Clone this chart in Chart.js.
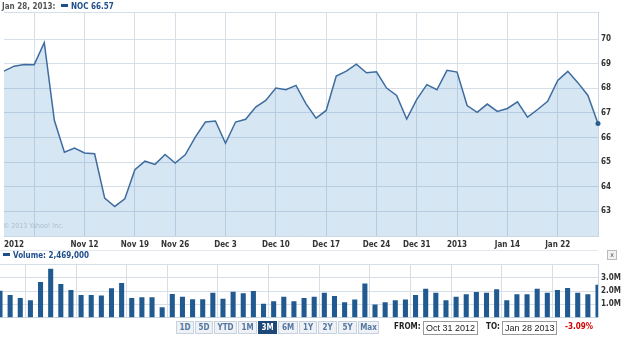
<!DOCTYPE html>
<html>
<head>
<meta charset="utf-8">
<script src="https://cdn.jsdelivr.net/npm/chart.js@4/dist/chart.umd.min.js"></script>
<style>
  body { margin: 0; width: 625px; height: 337px; background: #fff; overflow: hidden; position: relative;
         font-family: 'DejaVu Sans Condensed', 'DejaVu Sans', sans-serif; }
  canvas { position: absolute; left: 0; }
  #main { top: 0; }
  #vol { top: 250px; }
  .lbl { position: absolute; font-size: 8px; font-weight: bold; white-space: nowrap; line-height: 10px; }
  .sw { display: inline-block; width: 7px; height: 3px; background: #1f4e8c; vertical-align: 2px; margin-right: 3px; }
  #btns { position: absolute; left: 176px; top: 321px; height: 12px; }
  .b { position: absolute; top: 0; height: 11px; border: 1px solid #c9d3de; background: #eef2f6; color: #5577a0;
       font-size: 8px; font-weight: bold; text-align: center; line-height: 11px; box-sizing: content-box; }
  .b.on { background: #1e4877; border-color: #1e4877; color: #fff; }
  .inp { position: absolute; top: 321px; height: 12px; border: 1px solid #9a9a9a; font-family: 'Liberation Sans', Arial, sans-serif;
         font-size: 9px; color: #222; line-height: 12px; padding-left: 2px; white-space: nowrap; overflow: hidden; }
</style>
</head>
<body>
<canvas id="main" width="625" height="252"></canvas>
<canvas id="vol" width="625" height="80"></canvas>

<div class="lbl" style="left:2px;top:2px;color:#555">Jan 28, 2013:</div>
<div class="lbl" style="left:61px;top:2px;color:#1f4e8c"><span class="sw"></span>NOC 66.57</div>
<div style="position:absolute;left:3px;top:222px;font-size:7px;color:#aebdcb">© 2013 Yahoo! Inc.</div>
<div style="position:absolute;left:0;top:250px;width:598px;height:1px;background:#e2e8ee"></div>
<div class="lbl" style="left:3px;top:251px;color:#1f4e8c"><span class="sw"></span>Volume: 2,469,000</div>
<div style="position:absolute;left:607px;top:250px;width:8px;height:8px;border:1px solid #bbb;background:#f2f2f2;font-size:7px;line-height:8px;text-align:center;color:#555">x</div>

<div id="btns"></div>
<div class="lbl" style="left:394px;top:322px;color:#222">FROM:</div>
<div class="inp" style="left:423px;width:51px">Oct 31 2012</div>
<div class="lbl" style="left:486px;top:322px;color:#222">TO:</div>
<div class="inp" style="left:502px;width:51px">Jan 28 2013</div>
<div class="lbl" style="left:565px;top:322px;color:#d40000">-3.09%</div>

<script>
const days = [
  "Oct 31", "Nov 1", "Nov 2", "Nov 5", "Nov 6", "Nov 7", "Nov 8", "Nov 9",
  "Nov 12", "Nov 13", "Nov 14", "Nov 15", "Nov 16", "Nov 19", "Nov 20", "Nov 21", "Nov 23",
  "Nov 26", "Nov 27", "Nov 28", "Nov 29", "Nov 30", "Dec 3", "Dec 4", "Dec 5", "Dec 6", "Dec 7",
  "Dec 10", "Dec 11", "Dec 12", "Dec 13", "Dec 14", "Dec 17", "Dec 18", "Dec 19", "Dec 20", "Dec 21",
  "Dec 24", "Dec 26", "Dec 27", "Dec 28", "Dec 31", "Jan 2", "Jan 3", "Jan 4",
  "Jan 7", "Jan 8", "Jan 9", "Jan 10", "Jan 11", "Jan 14", "Jan 15", "Jan 16", "Jan 17", "Jan 18",
  "Jan 22", "Jan 23", "Jan 24", "Jan 25", "Jan 28"
];

const closes = [
  68.70, 68.90, 68.97, 68.96, 69.85, 66.70, 65.40, 65.57, 65.37, 65.34,
  63.54, 63.20, 63.51, 64.69, 65.04, 64.91, 65.31, 64.96, 65.30, 66.02,
  66.63, 66.67, 65.77, 66.63, 66.74, 67.24, 67.51, 68.01, 67.94, 68.12,
  67.37, 66.79, 67.10, 68.50, 68.70, 68.98, 68.63, 68.67, 68.01, 67.71,
  66.75, 67.55, 68.15, 67.94, 68.73, 68.66, 67.30, 67.02, 67.36, 67.06,
  67.18, 67.45, 66.83, 67.14, 67.47, 68.32, 68.69, 68.23, 67.71, 66.57
];

// millions of shares
const volumes = [
  2.03, 1.71, 1.48, 1.31, 2.68, 3.68, 2.53, 2.08, 1.71, 1.71,
  1.66, 2.21, 2.61, 1.48, 1.53, 1.53, 0.78, 1.78, 1.58, 1.38,
  1.38, 1.88, 1.43, 1.96, 1.83, 2.01, 1.05, 1.23, 1.58, 1.23,
  1.48, 1.58, 1.88, 1.63, 1.16, 1.36, 2.58, 1.00, 1.16, 1.31,
  1.36, 1.71, 2.18, 1.88, 1.31, 1.58, 1.76, 1.93, 1.88, 2.13,
  1.31, 1.76, 1.76, 2.18, 1.88, 2.08, 2.23, 1.88, 1.76, 2.47
];

const gridDays = ["Nov 5", "Nov 12", "Nov 19", "Nov 26", "Dec 3", "Dec 10", "Dec 17", "Dec 24", "Dec 31", "Jan 7", "Jan 14", "Jan 22"];
const tickDays = ["Nov 1", "Nov 12", "Nov 19", "Nov 26", "Dec 3", "Dec 10", "Dec 17", "Dec 24", "Dec 31", "Jan 7", "Jan 14", "Jan 22"];
const tickLabels = ["2012", "Nov 12", "Nov 19", "Nov 26", "Dec 3", "Dec 10", "Dec 17", "Dec 24", "Dec 31", "2013", "Jan 14", "Jan 22"];
const priceTicks = [63, 64, 65, 66, 67, 68, 69, 70];
const volumeTicks = [1, 2, 3];
const ranges = ["1D", "5D", "YTD", "1M", "3M", "6M", "1Y", "2Y", "5Y", "Max"];

const font = { family: "'DejaVu Sans Condensed', 'DejaVu Sans', sans-serif", size: 8, weight: "bold" };
const gridColor = "#d6dfe8";

function xGrid(ctx) {
  return gridDays.includes(days[ctx.index]) ? gridColor : "rgba(0,0,0,0)";
}

function xLabel(v, i) {
  const k = tickDays.indexOf(days[i]);
  return k >= 0 ? tickLabels[k] : "";
}

new Chart(document.getElementById("main"), {
  type: "line",
  data: {
    labels: days,
    datasets: [{
      data: closes,
      borderColor: "#3e6c9f",
      borderWidth: 1.5,
      backgroundColor: "rgba(70,140,200,0.22)",
      fill: "start",
      tension: 0,
      pointRadius: ctx => ctx.dataIndex === closes.length - 1 ? 2.5 : 0,
      pointBackgroundColor: "#2b5c92",
      pointBorderWidth: 0
    }]
  },
  options: {
    responsive: false,
    animation: false,
    layout: { padding: { top: 12, left: 0, right: 0, bottom: 0 } },
    plugins: { legend: { display: false }, tooltip: { enabled: false } },
    scales: {
      x: {
        offset: false,
        grid: { color: xGrid, drawTicks: false },
        border: { color: "#cbd7e2" },
        ticks: { autoSkip: false, maxRotation: 0, padding: 4, color: "#333", font, callback: xLabel },
        afterFit: s => { s.height = 16; }
      },
      y: {
        position: "right",
        min: 62,
        max: 71.1,
        afterBuildTicks: s => { s.ticks = priceTicks.concat([71.1]).map(v => ({ value: v })); },
        grid: { color: gridColor, drawTicks: false },
        border: { color: "#c6d6e4" },
        ticks: { padding: 3, color: "#333", font, callback: v => priceTicks.includes(v) ? v : "" },
        afterFit: s => { s.width = 27; }
      }
    }
  }
});

new Chart(document.getElementById("vol"), {
  type: "bar",
  data: {
    labels: days,
    datasets: [{
      data: volumes,
      backgroundColor: "#205a90",
      categoryPercentage: 1,
      barPercentage: 0.5
    }]
  },
  options: {
    responsive: false,
    animation: false,
    layout: { padding: { top: 14.5, left: 0, right: 0, bottom: 0 } },
    plugins: { legend: { display: false }, tooltip: { enabled: false } },
    scales: {
      x: {
        offset: false,
        grid: { color: xGrid, drawTicks: false },
        border: { color: "#cbd7e2" },
        ticks: { display: false },
        afterFit: s => { s.height = 12.3; }
      },
      y: {
        position: "right",
        min: 0,
        max: 4,
        afterBuildTicks: s => { s.ticks = [0].concat(volumeTicks, [4]).map(v => ({ value: v })); },
        grid: { color: gridColor, drawTicks: false },
        border: { color: "#c6d6e4" },
        ticks: { padding: 3, color: "#333", font, callback: v => volumeTicks.includes(v) ? v.toFixed(1) + "M" : "" },
        afterFit: s => { s.width = 27; }
      }
    }
  }
});

// range buttons
const widths = [18, 18, 23, 19, 19, 20, 18, 19, 19, 21];
let bx = 0;
ranges.forEach((r, i) => {
  const d = document.createElement("div");
  d.className = "b" + (r === "3M" ? " on" : "");
  d.style.left = bx + "px";
  d.style.width = (widths[i] - 2) + "px";
  d.textContent = r;
  document.getElementById("btns").appendChild(d);
  bx += widths[i] + 1;
});
</script>
</body>
</html>
